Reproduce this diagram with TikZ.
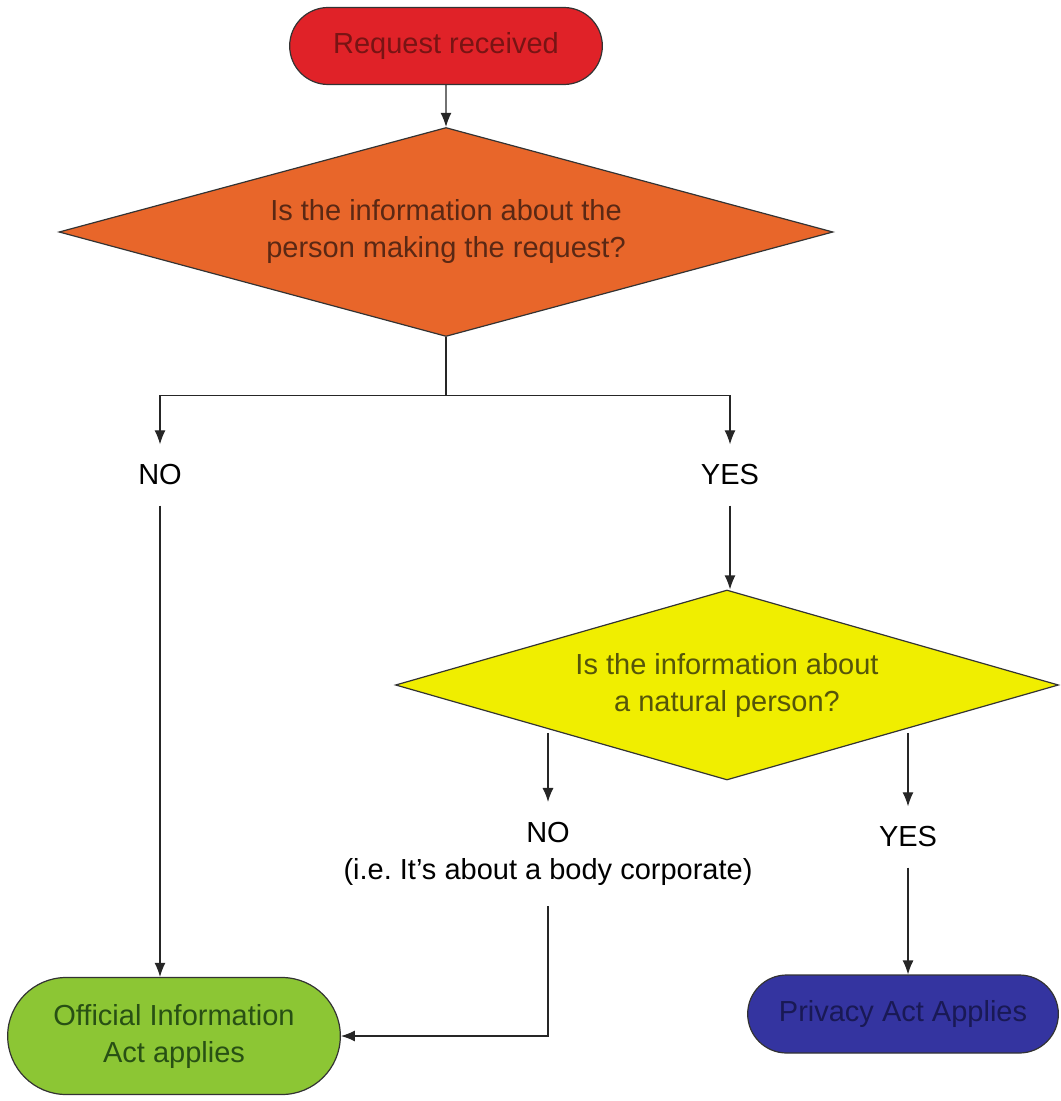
\documentclass[tikz,border=0pt]{standalone}
\usepackage{fontspec}
\setmainfont{Liberation Sans}
\usetikzlibrary{shapes.geometric,shapes.misc,arrows.meta}

\definecolor{reqred}{RGB}{224,34,40}
\definecolor{reqtext}{RGB}{120,20,20}
\definecolor{qorange}{RGB}{232,102,42}
\definecolor{qorangetext}{RGB}{90,40,20}
\definecolor{qyellow}{RGB}{240,238,0}
\definecolor{qyellowtext}{RGB}{85,85,10}
\definecolor{oiagreen}{RGB}{140,198,52}
\definecolor{oiatext}{RGB}{40,80,20}
\definecolor{pablue}{RGB}{52,52,160}
\definecolor{patext}{RGB}{25,25,85}

\begin{document}
\frenchspacing
\begin{tikzpicture}[x=0.5pt,y=-0.5pt,
  font=\fontsize{14.5}{18.5}\selectfont,
  >={Latex[length=7pt,width=5.5pt]},
  pill/.style={rounded rectangle,draw=black!80,line width=0.6pt,align=center},
  query/.style={diamond,draw=black!80,line width=0.6pt,align=center,inner sep=0pt},
  answer/.style={align=center,inner xsep=2pt,inner ysep=10pt},
  flow/.style={->,line width=0.6pt,black!85}]
\useasboundingbox (0,0) rectangle (1060,1101);

\node[pill,fill=reqred,text=reqtext,minimum width=163pt,minimum height=38.5pt] (start) at (446,46) {Request received};
\node[query,fill=qorange,text=qorangetext,shape aspect=3.7,minimum width=387pt,minimum height=104.5pt] (q1) at (446,232) {Is the information about the\\person making the request?};

\node[answer] (no1) at (160,475) {NO};
\node[answer] (yes1) at (730,475) {YES};

\node[query,fill=qyellow,text=qyellowtext,shape aspect=3.5,minimum width=331.5pt,minimum height=95pt] (q2) at (727,685) {Is the information about\\a natural person?};

\node[answer] (no2) at (548,854) {NO\\(i.e. It's about a body corporate)};
\node[answer] (yes2) at (908,837) {YES};

\node[pill,fill=oiagreen,text=oiatext,minimum width=173pt,minimum height=58.5pt] (oia) at (174,1036) {Official Information\\Act applies};
\node[pill,fill=pablue,text=patext,minimum width=162pt,minimum height=39pt] (pa) at (903,1014) {Privacy Act Applies};

\draw[flow] (start) -- (q1);
\draw[flow] (q1.south) -- ++(0,58) -| (no1.north);
\draw[flow] (q1.south) -- ++(0,58) -| (yes1.north);
\draw[flow] (yes1.south) -- (yes1.south |- q2.north);
\draw[flow] (no1.south) -- (no1.south |- oia.north);
\draw[flow] (no2.north |- q2.south west) -- (no2.north);
\draw[flow] (yes2.north |- q2.south east) -- (yes2.north);
\draw[flow] (no2.south) |- (oia.east);
\draw[flow] (yes2.south) -- (yes2.south |- pa.north);
\end{tikzpicture}
\end{document}
